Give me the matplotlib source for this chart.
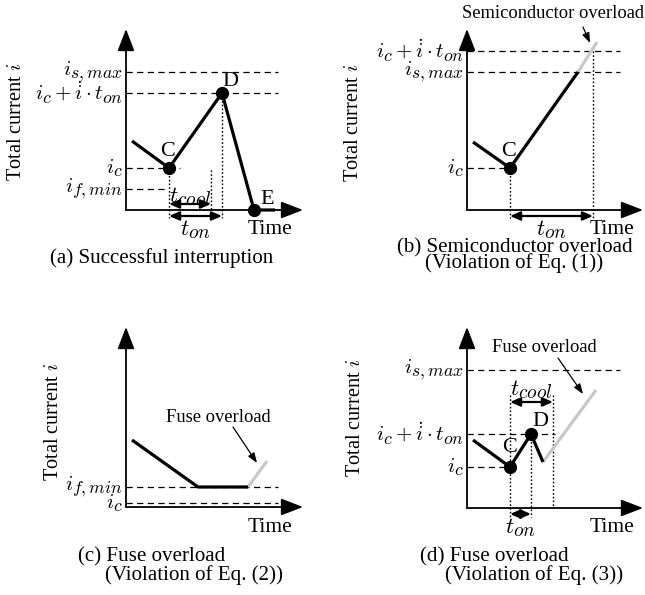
import matplotlib
matplotlib.use("Agg")
import matplotlib.pyplot as plt
import matplotlib._mathtext as mathtext_core

plt.rcParams["font.family"] = ["Liberation Serif", "DejaVu Serif"]
plt.rcParams["mathtext.fontset"] = "cm"
# larger sub/superscripts, closer to TeX display output
mathtext_core.SHRINK_FACTOR = 0.85

W, H = 645, 595
BLACK = "black"
GRAY = "#c8c8c8"

# ---- data (time / current in sketch units) ----
# (a) successful interruption
a_t = [6, 43, 96, 128, 149]
a_i = [69, 42, 117, 0, 0]
a_levels = {"smax": 138, "peak": 117, "ic": 42, "fmin": 21}
a_tcool_end = 85

# (b) semiconductor overload
b_t = [6, 43, 111]
b_i = [68, 42, 138]
b_over_t = [111, 130]
b_over_i = [138, 168]
b_levels = {"peak": 159, "smax": 138, "ic": 42}
b_ton_end = 126

# (c) fuse overload, Eq. (2)
c_t = [6, 72, 122]
c_i = [67, 20, 20]
c_over_t = [122, 141]
c_over_i = [20, 46]
c_levels = {"fmin": 20, "ic": 4}

# (d) fuse overload, Eq. (3)
d_t = [6, 43, 64, 76]
d_i = [68, 41, 74, 46]
d_over_t = [76, 129]
d_over_i = [46, 118]
d_levels = {"smax": 138, "peak": 74, "ic": 41}
d_tcool_end = 86

LBL_SMAX = r"$i_{s,max}$"
LBL_PEAK = r"$i_c+\dot{i}\cdot t_{on}$"
LBL_IC = r"$i_c$"
LBL_FMIN = r"$i_{f,min}$"

MATH_FS = 15
SPAN_FS = 16.5
PT_FS = 16
TIME_FS = 15.5
CAP_FS = 15.1
NOTE_FS = 13.3
YLAB_FS = 14.6

fig = plt.figure(figsize=(W / 100, H / 100), dpi=100)


def panel(ox, oy):
    """Axes covering the figure whose origin sits at pixel (ox, oy)."""
    ax = fig.add_axes([0, 0, 1, 1])
    ax.set_xlim(-ox, W - ox)
    ax.set_ylim(oy - H, oy)
    ax.axis("off")
    return ax


def axes_arrows(ax, xtip, ytip):
    style = "-|>,head_length=13.5,head_width=5.2"
    for tip in [(xtip, 0), (0, ytip)]:
        ax.annotate("", xy=tip, xytext=(0, 0),
                    arrowprops=dict(arrowstyle=style, lw=1.3, color=BLACK,
                                    shrinkA=0, shrinkB=0, mutation_scale=1))


def hdash(ax, y, x1, label):
    ax.plot([0, x1], [y, y], color=BLACK, lw=0.9, ls=(0, (5, 3.5)))
    ax.text(-3, y, label, ha="right", va="center", fontsize=MATH_FS)


def vdot(ax, x, y0, y1):
    ax.plot([x, x], [y0, y1], color=BLACK, lw=1.0, ls=(0, (1.2, 1.5)))


def span_arrow(ax, x0, x1, y, label, ly):
    ax.annotate("", xy=(x1, y), xytext=(x0, y),
                arrowprops=dict(arrowstyle="<|-|>,head_length=6,head_width=2.6",
                                lw=1.6, color=BLACK, shrinkA=0, shrinkB=0,
                                mutation_scale=1))
    ax.text((x0 + x1) / 2, ly, label, ha="center", va="center",
            fontsize=SPAN_FS)


def curve(ax, t, i, color=BLACK):
    ax.plot(t, i, color=color, lw=2.3, solid_joinstyle="miter",
            solid_capstyle="butt")


def dot(ax, t, i):
    ax.plot([t], [i], "o", color=BLACK, ms=8.5)


def point_label(ax, x, y, s):
    ax.text(x, y, s, ha="center", va="center", fontsize=PT_FS)


def time_label(ax, x, y):
    ax.text(x, y, "Time", ha="center", va="center", fontsize=TIME_FS)


def annot(ax, text, xy, xytext, txt_pos):
    ax.annotate("", xy=xy, xytext=xytext,
                arrowprops=dict(arrowstyle="-|>,head_length=6,head_width=2.2",
                                lw=0.9, color=BLACK, shrinkA=0, shrinkB=0,
                                mutation_scale=1))
    ax.text(*txt_pos, text, ha="center", va="center", fontsize=NOTE_FS)


def ylabel(ax, x, y):
    ax.text(x, y, r"Total current $i$", rotation=90, ha="center",
            va="center", fontsize=YLAB_FS)


def caption(ax, x, y, s):
    ax.text(x, y, s, ha="left", va="center", fontsize=CAP_FS)


# ---------------- (a) ----------------
ax = panel(126, 210)
axes_arrows(ax, 177, 181)
hdash(ax, a_levels["smax"], 152, LBL_SMAX)
hdash(ax, a_levels["peak"], 152, LBL_PEAK)
hdash(ax, a_levels["ic"], 54, LBL_IC)
hdash(ax, a_levels["fmin"], 40, LBL_FMIN)
vdot(ax, a_t[1], a_i[1], -8)
vdot(ax, a_tcool_end, 40, 0)
vdot(ax, a_t[2], a_i[2], -8)
curve(ax, a_t, a_i)
dot(ax, a_t[1], a_i[1])
dot(ax, a_t[2], a_i[2])
dot(ax, a_t[3], a_i[3])
span_arrow(ax, a_t[1], a_tcool_end, 6, r"$t_{cool}$", 13)
span_arrow(ax, a_t[1], a_t[2], -6, r"$t_{on}$", -20)
point_label(ax, 42, 58, "C")
point_label(ax, 104, 129, "D")
point_label(ax, 141, 11, "E")
time_label(ax, 144, -20)
ylabel(ax, -109, 88)
caption(ax, -76, -48, "(a) Successful interruption")

# ---------------- (b) ----------------
ax = panel(467, 210)
axes_arrows(ax, 176, 181)
hdash(ax, b_levels["peak"], 153, LBL_PEAK)
hdash(ax, b_levels["smax"], 153, LBL_SMAX)
hdash(ax, b_levels["ic"], 53, LBL_IC)
vdot(ax, b_t[1], b_i[1], -8)
vdot(ax, b_ton_end, b_levels["peak"], -8)
curve(ax, b_over_t, b_over_i, GRAY)
curve(ax, b_t, b_i)
dot(ax, b_t[1], b_i[1])
span_arrow(ax, b_t[1], b_ton_end, -6, r"$t_{on}$", -20)
point_label(ax, 42, 59, "C")
time_label(ax, 145, -20)
annot(ax, "Semiconductor overload", (123, 167), (116, 183), (86, 197))
ylabel(ax, -114, 87)
caption(ax, -70, -38, "(b) Semiconductor overload")
caption(ax, -42, -53, "(Violation of Eq. (1))")

# ---------------- (c) ----------------
ax = panel(126, 507)
axes_arrows(ax, 177, 180)
hdash(ax, c_levels["fmin"], 152, LBL_FMIN)
hdash(ax, c_levels["ic"], 152, LBL_IC)
curve(ax, c_over_t, c_over_i, GRAY)
curve(ax, c_t, c_i)
annot(ax, "Fuse overload", (131, 44), (107, 80), (92, 90))
time_label(ax, 144, -20)
ylabel(ax, -73, 85)
caption(ax, -48, -50, "(c) Fuse overload")
caption(ax, -21, -68, "(Violation of Eq. (2))")

# ---------------- (d) ----------------
ax = panel(467, 508)
axes_arrows(ax, 176, 181)
hdash(ax, d_levels["smax"], 153, LBL_SMAX)
hdash(ax, d_levels["peak"], 88, LBL_PEAK)
hdash(ax, d_levels["ic"], 53, LBL_IC)
vdot(ax, d_t[1], 113, -9)
vdot(ax, d_t[2], d_i[2], -9)
vdot(ax, d_tcool_end, 113, 0)
curve(ax, d_over_t, d_over_i, GRAY)
curve(ax, d_t, d_i)
dot(ax, d_t[1], d_i[1])
dot(ax, d_t[2], d_i[2])
span_arrow(ax, d_t[1], d_tcool_end, 106, r"$t_{cool}$", 118)
span_arrow(ax, d_t[1], d_t[2], -6, r"$t_{on}$", -20)
point_label(ax, 43, 60, "C")
point_label(ax, 73, 87, "D")
time_label(ax, 145, -19)
annot(ax, "Fuse overload", (116, 114), (91, 150), (77, 160))
ylabel(ax, -112, 90)
caption(ax, -47, -49, "(d) Fuse overload")
caption(ax, -22, -67, "(Violation of Eq. (3))")

fig.savefig("out.png", dpi=100)
